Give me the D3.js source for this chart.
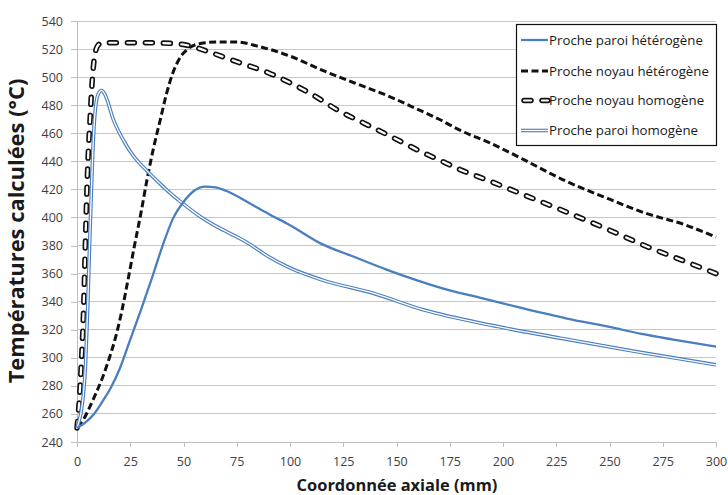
<!DOCTYPE html>
<html><head><meta charset="utf-8">
<script src="https://cdn.jsdelivr.net/npm/d3@7"></script>
<style>body{margin:0;background:#fff}svg{display:block}</style>
</head><body>
<svg id="c" width="728" height="495"></svg>
<script>
// ---- data ----
const xTicks = [0,25,50,75,100,125,150,175,200,225,250,275,300];
const yTicks = [240,260,280,300,320,340,360,380,400,420,440,460,480,500,520,540];
const seriesNames = ["Proche paroi hétérogène","Proche noyau hétérogène","Proche noyau homogène","Proche paroi homogène"];

const paroiHetX = [0,4,8,12,16,20,25,30,35,40,45,50,55,60,65,70,80,90,100,115,130,145,160,175,190,210,230,250,265,280,300];
const paroiHetT = [250,254,260,269,279,292,313,334,356,379,399,411,419,422,421.5,419,411,402.5,394.5,381,372,363,355,348,342.5,335,328,322,317,313,308];

const noyauHetX = [0,3,6,9,12,15,18,21,24,27,30,33,36,39,42,45,48,52,58,65,75,85,100,115,130,147,160,170,180,194,210,228,250,267,285,300];
const noyauHetT = [251,256,265,275,286,299,314,333,356,380,403,428,450,469,488,503,513,520,524,525,525,522,515,505,496,486,477,470,462,453,441,427,413,403,395,386];

const noyauHomX = [0,1,2,3,4,4.5,5.3,6,7,8,9,10,12,20,30,40,48,55,60,75,90,100,110,123,135,147,160,170,180,192,210,228,250,268,285,300];
const noyauHomT = [250,268,295,330,385,412,446,466,494,512,520,523,524.5,524.5,524.5,524.3,523.6,521.5,519,511,503,496,488,476,467,458,448,441,434,427,416,405,391,379,369,360];

const paroiHomX = [0,1,2,3,4,5,6,7,8,9,10,11.5,13,14,17,20,22,25,28,33,38,44,48,58,65,72,80,90,100,115,139,163,194,227,263,300];
const paroiHomT = [250,255,262,274,295,335,385,430,465,482,488,490.5,488,484.5,470,460,454.5,447,441,433,425.5,417,412,400.5,394,388.5,382,372,364,355.5,346,334,323.3,314,304.3,295];

// ---- chart ----
const svg = d3.select("#c");
const x = d3.scaleLinear().domain([0,300]).range([77,716]);
const y = d3.scaleLinear().domain([240,540]).range([442,21]);
const blue = "#4a7ebf";
const tickFont = "'Open Sans', sans-serif";

svg.append("rect").attr("width",728).attr("height",495).attr("fill","#fff");

// gridlines
svg.append("g").selectAll("line").data(yTicks.filter(v=>v>240)).join("line")
  .attr("x1",x(0)).attr("x2",x(300)).attr("y1",d=>y(d)).attr("y2",d=>y(d))
  .attr("stroke","#c6c6c6").attr("stroke-width",1).attr("shape-rendering","crispEdges");

// axes
const gy = svg.append("g").attr("transform",`translate(${x(0)},0)`)
  .call(d3.axisLeft(y).tickValues(yTicks).tickSize(6).tickPadding(8).tickFormat(d3.format("d")));
const gx = svg.append("g").attr("transform",`translate(0,${y(240)})`)
  .call(d3.axisBottom(x).tickValues(xTicks).tickSize(5).tickPadding(10).tickFormat(d3.format("d")));
[gx,gy].forEach(g=>{
  g.selectAll("path.domain").attr("stroke","#bdbdbd").attr("shape-rendering","crispEdges");
  g.selectAll(".tick line").attr("stroke","#bdbdbd").attr("shape-rendering","crispEdges");
  g.selectAll(".tick text").attr("fill","#404040").style("font-family",tickFont).style("font-size","12.5px");
});
gy.select("path.domain").attr("d",`M0,${y(540)}V${y(240)}`);
gx.select("path.domain").attr("d",`M${x(0)},0H${x(300)}`);

// line generator
const line = (xs,ys)=> d3.line().curve(d3.curveMonotoneX)
  .x((d,i)=>x(xs[i])).y((d,i)=>y(ys[i]))(ys);

const plot = svg.append("g");
// noyau homogene: outlined dashes
const pHom = line(noyauHomX,noyauHomT);
plot.append("path").attr("d",pHom).attr("fill","none").attr("stroke","#111")
  .attr("stroke-width",5.5).attr("stroke-dasharray","7,11").attr("stroke-linecap","round");
plot.append("path").attr("d",pHom).attr("fill","none").attr("stroke","#fff")
  .attr("stroke-width",2.2).attr("stroke-dasharray","7,11").attr("stroke-linecap","round");
// noyau heterogene: short dashes
plot.append("path").attr("d",line(noyauHetX,noyauHetT)).attr("fill","none").attr("stroke","#111")
  .attr("stroke-width",3).attr("stroke-dasharray","7,3.5");
// paroi homogene: double blue
const pPH = line(paroiHomX,paroiHomT);
plot.append("path").attr("d",pPH).attr("fill","none").attr("stroke",blue).attr("stroke-width",3.6);
plot.append("path").attr("d",pPH).attr("fill","none").attr("stroke","#fff").attr("stroke-width",1.3);
// paroi heterogene: solid blue
plot.append("path").attr("d",line(paroiHetX,paroiHetT)).attr("fill","none").attr("stroke",blue).attr("stroke-width",2.3);

// axis titles
function fit(t, w){ const n=t.node(); const L=n.getComputedTextLength(); const fs=parseFloat(t.style("font-size")); const nf=fs*w/L; t.style("font-size",nf+"px"); return nf; }
const xt = svg.append("text").attr("x",397).attr("y",491).attr("text-anchor","middle")
  .style("font-family",tickFont).style("font-weight","bold").style("font-size","16px").attr("fill","#1a1a1a")
  .text("Coordonnée axiale (mm)");
fit(xt,201);
const yt = svg.append("text").attr("transform","translate(24,231) rotate(-90)").attr("text-anchor","middle")
  .style("font-family",tickFont).style("font-weight","bold").style("font-size","16px").attr("fill","#1a1a1a")
  .text("Températures calculées (°C)");
fit(yt,305);

// legend
const lg = svg.append("g");
lg.append("rect").attr("x",516.5).attr("y",24.5).attr("width",200).attr("height",121)
  .attr("fill","#fff").attr("stroke","#111").attr("stroke-width",1.2);
const rowsY = [40,71,100.5,130.5];
let legendFs = null;
rowsY.forEach((ry,i)=>{
  const x1=521, x2=548;
  const p = `M${x1},${ry}H${x2}`;
  if(i===0){ lg.append("path").attr("d",p).attr("stroke",blue).attr("stroke-width",2.3); }
  if(i===1){ lg.append("path").attr("d",p).attr("stroke","#111").attr("stroke-width",3).attr("stroke-dasharray","7,3.5"); }
  if(i===2){
    const p2 = `M${x1+3},${ry}H${x2}`;
    lg.append("path").attr("d",p2).attr("stroke","#111").attr("stroke-width",5.5).attr("stroke-dasharray","7,11").attr("stroke-linecap","round");
    lg.append("path").attr("d",p2).attr("stroke","#fff").attr("stroke-width",2.2).attr("stroke-dasharray","7,11").attr("stroke-linecap","round");
  }
  if(i===3){
    lg.append("path").attr("d",p).attr("stroke",blue).attr("stroke-width",3.6);
    lg.append("path").attr("d",p).attr("stroke","#fff").attr("stroke-width",1.3);
  }
  const t = lg.append("text").attr("x",549).attr("y",ry).attr("dy","0.35em")
    .style("font-family",tickFont).style("font-size","13px").attr("fill","#1a1a1a").text(seriesNames[i]);
  if(i===0) legendFs = fit(t,154); else t.style("font-size",legendFs+"px");
});
</script>
</body></html>
